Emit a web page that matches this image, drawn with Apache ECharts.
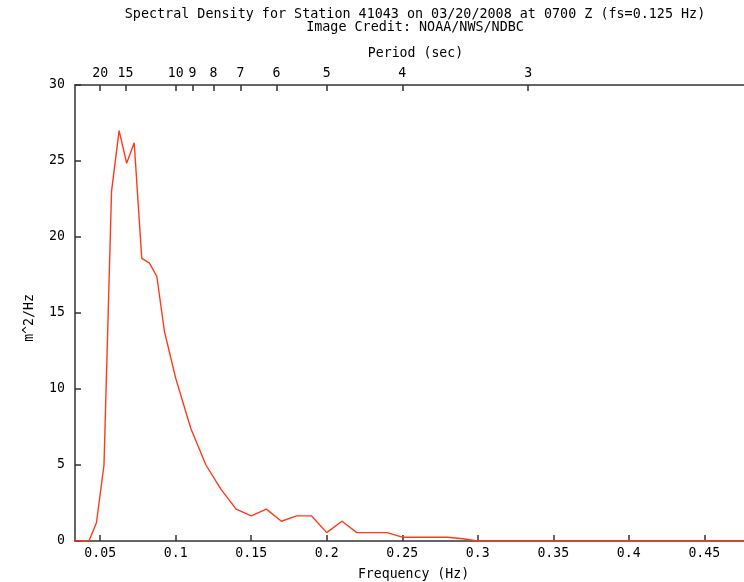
<!DOCTYPE html>
<html>
<head>
<meta charset="utf-8">
<script src="https://cdn.jsdelivr.net/npm/echarts@6/dist/echarts.min.js"></script>
<style>html,body{margin:0;padding:0;background:#fff;}#c{width:744px;height:582px;}</style>
</head>
<body>
<div id="c"></div>
<script>
var titleLine1 = 'Spectral Density for Station 41043 on 03/20/2008 at 0700 Z (fs=0.125 Hz)';
var titleLine2 = 'Image Credit: NOAA/NWS/NDBC';
var xName = 'Frequency (Hz)';
var topName = 'Period (sec)';
var yName = 'm^2/Hz';

var frequencies = [0.0325,0.0375,0.0425,0.0475,0.0525,0.0575,0.0625,0.0675,0.0725,0.0775,0.0825,0.0875,0.0925,0.1,0.11,0.12,0.13,0.14,0.15,0.16,0.17,0.18,0.19,0.2,0.21,0.22,0.23,0.24,0.25,0.26,0.27,0.28,0.29,0.3,0.31,0.32,0.33,0.34,0.35,0.365,0.385,0.405,0.425,0.445,0.465,0.485];
var density = [0,0,0,1.2,5.0,23.0,27.0,24.85,26.2,18.6,18.3,17.4,13.8,10.7,7.4,5.0,3.4,2.1,1.65,2.1,1.3,1.65,1.65,0.55,1.3,0.55,0.55,0.55,0.25,0.25,0.25,0.25,0.15,0,0,0,0,0,0,0,0,0,0,0,0,0];

var freqTicks = [0.05,0.1,0.15,0.2,0.25,0.3,0.35,0.4,0.45];
var periodTicks = [20,15,10,9,8,7,6,5,4,3];
var yTicks = [0,5,10,15,20,25,30];

var X_MIN = 0.0333, X_MAX = 0.4763;
var FONT = 'DejaVu Sans Mono';

var chart = echarts.init(document.getElementById('c'), null, {renderer:'canvas'});
var axisLineStyle = {color:'#333', width:1.5};
chart.setOption({
  animation:false,
  backgroundColor:'#fff',
  graphic:[
    {type:'text', x:415, y:14.5, style:{text:titleLine1, font:'13.4px "'+FONT+'"', fill:'#000', align:'center', verticalAlign:'middle'}},
    {type:'text', x:415, y:28, style:{text:titleLine2, font:'13.4px "'+FONT+'"', fill:'#000', align:'center', verticalAlign:'middle'}},
    {type:'text', x:30, y:318, rotation:Math.PI/2, style:{text:yName, font:'13.2px "'+FONT+'"', fill:'#000', align:'center', verticalAlign:'middle'}}
  ],
  grid:{left:75, right:0, top:85, bottom:41, containLabel:false, outerBoundsMode:'none'},
  xAxis:[{
    type:'value', min:X_MIN, max:X_MAX, position:'bottom',
    name:xName, nameLocation:'middle', nameGap:27,
    nameTextStyle:{fontFamily:FONT, fontSize:13.2, color:'#000', padding:[0,0,0,8]},
    axisLine:{show:true, lineStyle:axisLineStyle, onZero:false},
    axisTick:{show:true, inside:true, length:6, lineStyle:{color:'#333', width:1.5}, customValues:freqTicks},
    axisLabel:{fontFamily:FONT, fontSize:13.2, color:'#000', margin:6, customValues:freqTicks,
      formatter:function(v){return String(+v.toFixed(3));}},
    splitLine:{show:false}
  },{
    type:'value', min:X_MIN, max:X_MAX, position:'top',
    name:topName, nameLocation:'middle', nameGap:25,
    nameTextStyle:{fontFamily:FONT, fontSize:13.2, color:'#000', padding:[0,0,0,12]},
    axisLine:{show:true, lineStyle:axisLineStyle, onZero:false},
    axisTick:{show:true, inside:true, length:6, lineStyle:{color:'#333', width:1.5}, customValues:periodTicks.map(function(p){return 1/p;})},
    axisLabel:{fontFamily:FONT, fontSize:13.2, color:'#000', margin:5, customValues:periodTicks.map(function(p){return 1/p;}),
      formatter:function(v){return String(Math.round(1/v));}},
    splitLine:{show:false}
  }],
  yAxis:{
    type:'value', min:0, max:30, interval:5,
    axisLine:{show:true, lineStyle:axisLineStyle},
    axisTick:{show:true, inside:true, length:6, lineStyle:{color:'#333', width:1.5}},
    axisLabel:{fontFamily:FONT, fontSize:13.2, color:'#000', margin:10, customValues:yTicks},
    splitLine:{show:false}
  },
  series:[{
    type:'line', xAxisIndex:0, yAxisIndex:0,
    data:frequencies.map(function(f,i){return [f, density[i]];}),
    showSymbol:false, symbol:'none',
    lineStyle:{color:'#ff3a1a', width:1.4},
    clip:true
  }]
});
</script>
</body>
</html>
